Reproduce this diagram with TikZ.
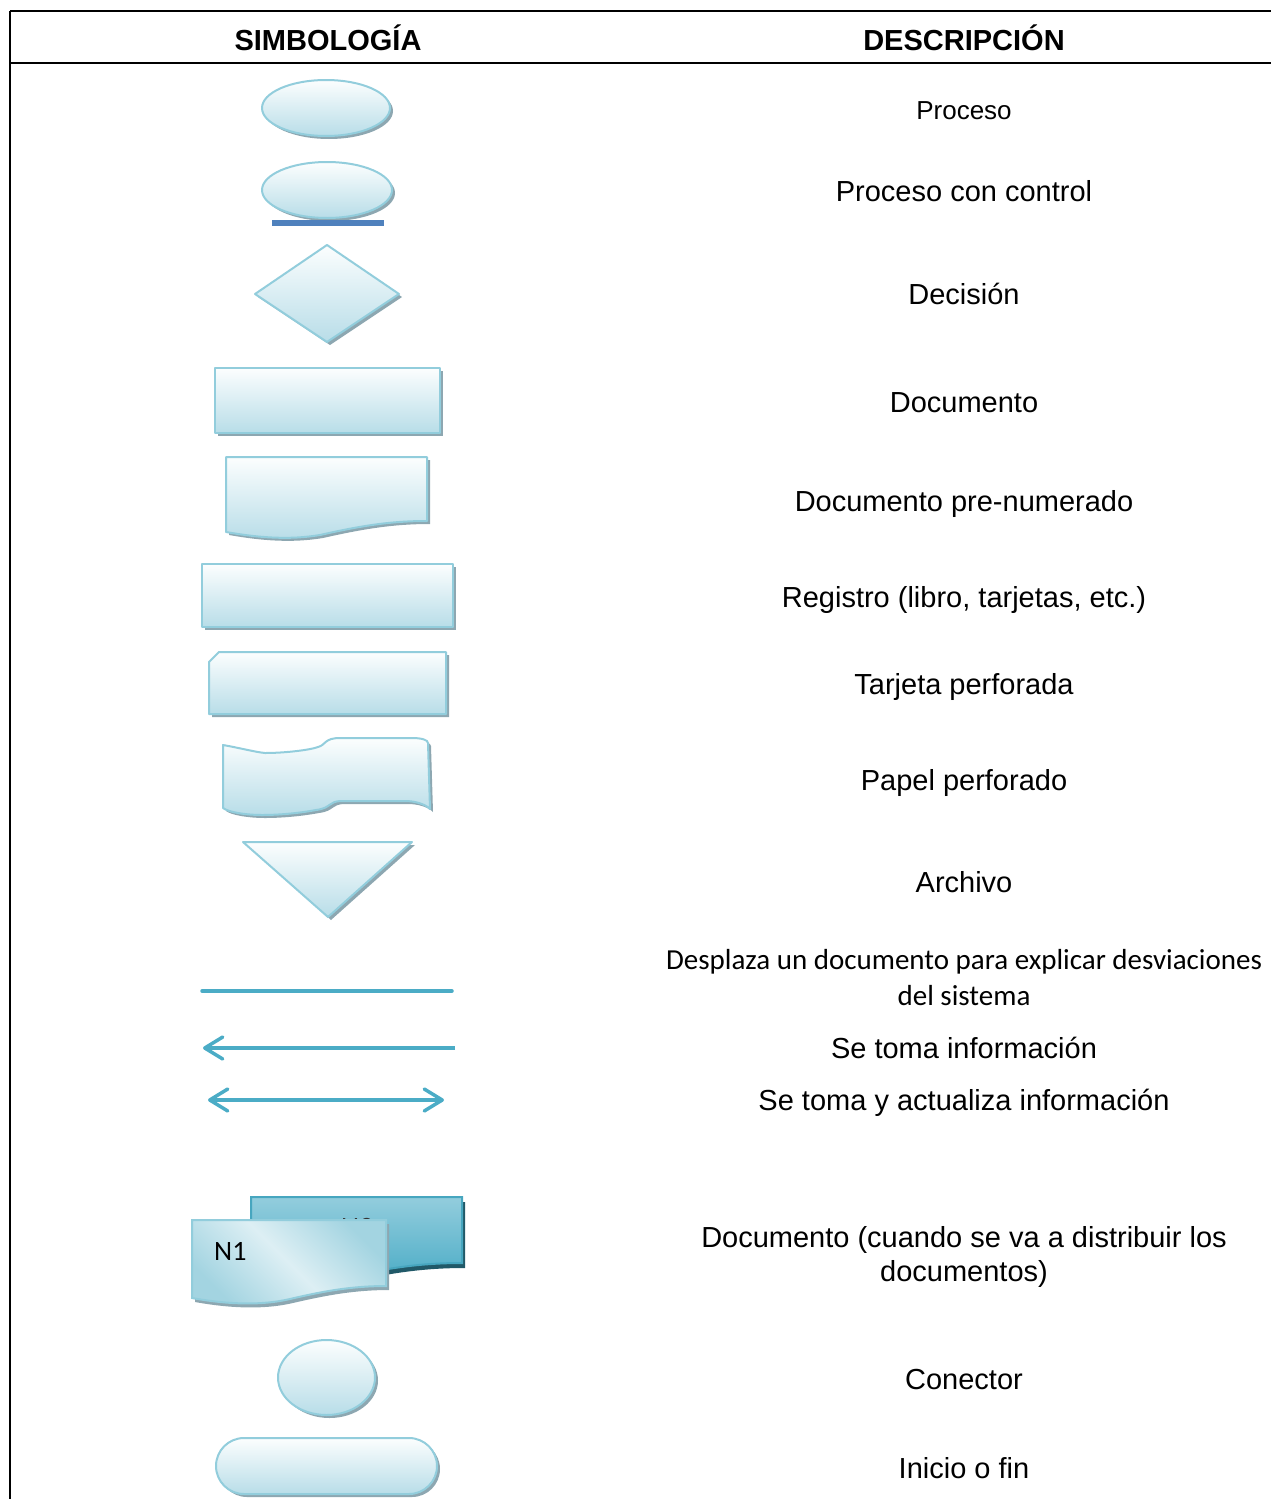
\documentclass[tikz,border=0pt]{standalone}
\usepackage{fontspec}
\setmainfont{Liberation Sans}
\newfontfamily\calibrifont{Carlito}
\usetikzlibrary{shadows,arrows.meta}

\definecolor{symfill}{HTML}{B8DDE8}
\definecolor{symtop}{HTML}{FCFEFE}
\definecolor{symline}{HTML}{92CDDC}
\definecolor{symshadow}{HTML}{8DA7B1}
\definecolor{ctrlbar}{HTML}{4F81BD}
\definecolor{flowline}{HTML}{4BACC6}
\definecolor{darkdoc}{HTML}{4BACC6}
\definecolor{darkdoctop}{HTML}{93CDDD}
\definecolor{darkdocline}{HTML}{47A6BF}
\definecolor{darkshadow}{HTML}{215968}
\definecolor{lightdoc}{HTML}{DDEFF4}
\definecolor{lightdocedge}{HTML}{A3D4E1}

\tikzset{
  sym/.style={draw=symline, line width=2pt, line join=round,
    top color=symtop, bottom color=symfill,
    drop shadow={shadow xshift=3pt, shadow yshift=-3pt, fill=symshadow, opacity=1}},
  rule/.style={line width=2pt, draw=black},
  hdr/.style={font=\fontsize{29}{34}\selectfont\bfseries, inner sep=0pt, anchor=base},
  desc/.style={font=\fontsize{29}{34}\selectfont, inner sep=0pt, anchor=base, align=center},
  descsmall/.style={font=\fontsize{26}{30}\selectfont, inner sep=0pt, anchor=base},
  desccal/.style={font=\calibrifont\fontsize{29}{36}\selectfont, inner sep=0pt, anchor=base, align=center},
  doclabel/.style={font=\calibrifont\fontsize{28}{32}\selectfont, inner sep=0pt, anchor=base west},
  flow/.style={draw=flowline, line width=3.5pt},
  barb/.tip={Straight Barb[length=18pt, width=22pt, round]}
}

\begin{document}
\begin{tikzpicture}[x=1pt,y=-1pt]
\useasboundingbox (0,0) rectangle (1271,1499);

% table frame
\coordinate (tl) at (10,11);
\coordinate (tr) at (1271,11);
\coordinate (ml) at (10,63);
\coordinate (mr) at (1271,63);
\coordinate (bl) at (10,1499);
\draw[rule] (tl) -- (tr);
\draw[rule] (ml) -- (mr);
\draw[rule] (tl) -- (bl);

% column headings
\node[hdr] (hsym) at (328,50) {SIMBOLOGÍA};
\node[hdr] (hdesc) at (964,50) {DESCRIPCIÓN};

% symbols
\path[sym] (326,108) ellipse [x radius=64pt, y radius=28pt];
\path[sym] (327,190) ellipse [x radius=65pt, y radius=28pt];
\fill[ctrlbar] (272,220) rectangle (384,226);
\path[sym] (255,294) -- (327,245) -- (399,294) -- (327,342) -- cycle;
\path[sym] (215,368) rectangle (440,433);
\path[sym] (226,457) -- (427,457) -- (427,521)
  .. controls (390,521) and (360,526) .. (320,535)
  .. controls (290,540) and (260,538) .. (226,532) -- cycle;
\path[sym] (202,564) rectangle (453,627);
\path[sym] (219,652) -- (446,652) -- (446,714) -- (209,714) -- (209,662) -- cycle;
\path[sym] (223,745) .. controls (240,748) and (255,752) .. (265,753)
  .. controls (285,753) and (310,750) .. (318,747)
  .. controls (326,745) and (324,738) .. (340,738)
  -- (412,738) .. controls (422,738) and (428,740) .. (428,743)
  -- (430,809)
  .. controls (425,804) and (415,801) .. (405,801)
  -- (342,801) .. controls (328,801) and (332,808) .. (316,810)
  .. controls (300,813) and (280,815) .. (262,815)
  .. controls (245,815) and (228,812) .. (223,808) -- cycle;
\path[sym] (243,842) -- (412,842) -- (328,917) -- cycle;

% connector lines
\coordinate (lineA) at (202,991);
\coordinate (lineB) at (452,991);
\draw[flow, line cap=round] (lineA) -- (lineB);
\coordinate (takeA) at (455,1048);
\coordinate (takeB) at (203,1048);
\draw[flow, -barb] (takeA) -- (takeB);
\coordinate (bothA) at (208,1100);
\coordinate (bothB) at (444,1100);
\draw[flow, barb-barb] (bothA) -- (bothB);

% distributed documents
\path[draw=darkdocline, line width=2pt, top color=darkdoctop, bottom color=darkdoc,
  drop shadow={shadow xshift=3pt, shadow yshift=-5pt, fill=darkshadow, opacity=1}]
  (251,1197) -- (462,1197) -- (462,1263)
  .. controls (420,1263) and (390,1268) .. (350,1276)
  .. controls (320,1282) and (290,1280) .. (251,1275) -- cycle;
\node[doclabel, text=black!80] (n2) at (341,1236) {N2};
\path[draw=symline, line width=2pt, left color=lightdocedge, right color=lightdocedge,
  middle color=lightdoc, shading angle=135,
  drop shadow={shadow xshift=3pt, shadow yshift=-4pt, fill=symshadow, opacity=1}]
  (192,1220) -- (386,1220) -- (386,1286)
  .. controls (350,1286) and (320,1292) .. (290,1299)
  .. controls (260,1306) and (225,1304) .. (192,1298) -- cycle;
\node[doclabel] (n1) at (214,1260) {N1};

\path[sym] (326.5,1377.5) ellipse [x radius=48.5pt, y radius=37.5pt];
\path[sym, rounded corners=28pt] (216,1438) rectangle (437,1494);

% descriptions (multi-line nodes sit on the baseline of their last line)
\node[descsmall] (d1) at (964,119) {Proceso};
\node[desc] (d2) at (964,201) {Proceso con control};
\node[desc] (d3) at (964,304) {Decisión};
\node[desc] (d4) at (964,412) {Documento};
\node[desc] (d5) at (964,511) {Documento pre-numerado};
\node[desc] (d6) at (964,607) {Registro (libro, tarjetas, etc.)};
\node[desc] (d7) at (964,694) {Tarjeta perforada};
\node[desc] (d8) at (964,790) {Papel perforado};
\node[desc] (d9) at (964,892) {Archivo};
\node[desccal] (d10) at (964,1005) {Desplaza un documento para explicar desviaciones\\del sistema};
\node[desc] (d11) at (964,1058) {Se toma información};
\node[desc] (d12) at (964,1110) {Se toma y actualiza información};
\node[desc] (d13) at (964,1281) {Documento (cuando se va a distribuir los\\documentos)};
\node[desc] (d14) at (964,1389) {Conector};
\node[desc] (d15) at (964,1478) {Inicio o fin};
\end{tikzpicture}
\end{document}
